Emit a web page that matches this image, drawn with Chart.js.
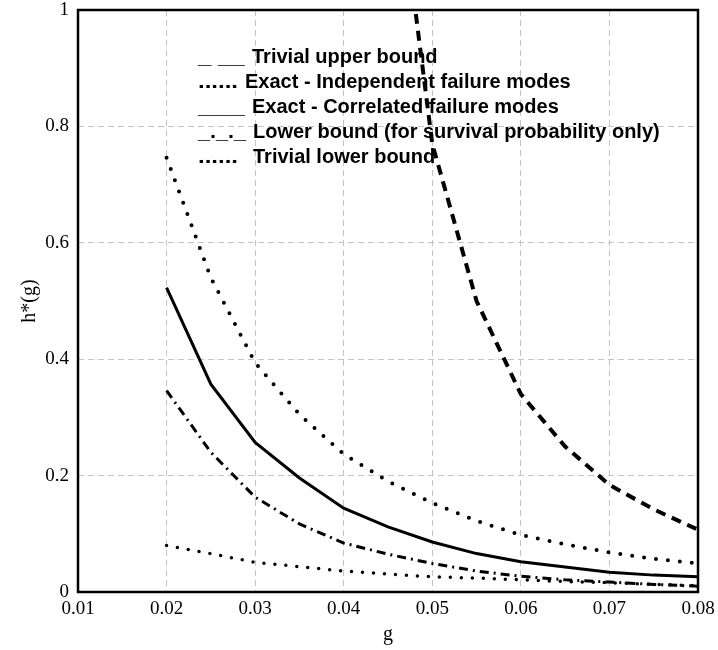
<!DOCTYPE html>
<html>
<head>
<meta charset="utf-8">
<script src="https://cdn.jsdelivr.net/npm/chart.js@4.4.1/dist/chart.umd.min.js"></script>
<style>
  html, body { margin: 0; padding: 0; background: #fff; }
  #wrap { width: 718px; height: 650px; }
</style>
</head>
<body>
<div id="wrap"><canvas id="chart"></canvas></div>
<script>
// g values the curves were read at
const gValues = [0.02, 0.025, 0.03, 0.035, 0.04, 0.045, 0.05, 0.055, 0.06, 0.065, 0.07, 0.075, 0.08];
// trivial upper bound only comes into range after g ~ 0.048
const upperG = [0.045, 0.05, 0.055, 0.06, 0.065, 0.07, 0.075, 0.08];

const trivialUpper = [1.37, 0.77, 0.50, 0.34, 0.25, 0.184, 0.142, 0.107];
const exactIndependent = [0.746, 0.54, 0.394, 0.305, 0.237, 0.19, 0.153, 0.122, 0.098, 0.082, 0.068, 0.057, 0.049];
const exactCorrelated = [0.523, 0.357, 0.257, 0.196, 0.144, 0.112, 0.086, 0.066, 0.052, 0.043, 0.034, 0.029, 0.026];
const lowerBound = [0.346, 0.24, 0.163, 0.117, 0.084, 0.065, 0.049, 0.036, 0.027, 0.021, 0.017, 0.013, 0.010];
const trivialLower = [0.08, 0.066, 0.051, 0.0435, 0.036, 0.031, 0.026, 0.024, 0.021, 0.018, 0.016, 0.013, 0.011];

const xTicks = [0.01, 0.02, 0.03, 0.04, 0.05, 0.06, 0.07, 0.08];
const xTickLabels = ['0.01', '0.02', '0.03', '0.04', '0.05', '0.06', '0.07', '0.08'];
const yTicks = [0, 0.2, 0.4, 0.6, 0.8, 1];
const yTickLabels = ['0', '0.2', '0.4', '0.6', '0.8', '1'];

// legend is plain text in the original, line samples typed as characters
const legendMarks = ['_ __', '......', '_____', '_._._', '......'];
const legendLabels = [
    'Trivial upper bound',
    'Exact - Independent failure modes',
    'Exact - Correlated failure modes',
    'Lower bound (for survival probability only)',
    'Trivial lower bound'
];

function pts(xs, ys) {
    return xs.map((x, i) => ({ x: x, y: ys[i] }));
}

// black box round the plot
const framePlugin = {
    id: 'frame',
    afterDatasetsDraw(chart) {
        const { ctx, chartArea: a } = chart;
        ctx.save();
        ctx.strokeStyle = '#000';
        ctx.lineWidth = 2.5;
        ctx.strokeRect(a.left, a.top, a.right - a.left, a.bottom - a.top);
        ctx.restore();
    }
};

const textLegendPlugin = {
    id: 'textLegend',
    beforeDatasetsDraw(chart) {
        const ctx = chart.ctx;
        const markX = 198;
        const textX = [252, 245, 252, 253, 253];
        const rowY = [57, 82, 107, 132, 157];
        ctx.save();
        ctx.fillStyle = '#000';
        ctx.font = 'bold 20px "Liberation Sans", Arial, sans-serif';
        ctx.textBaseline = 'middle';
        ctx.textAlign = 'left';
        legendLabels.forEach((label, i) => {
            const mark = legendMarks[i];
            const w = ctx.measureText(mark).width;
            const target = textX[i] - markX - 7;
            ctx.save();
            ctx.translate(markX, rowY[i]);
            ctx.scale(Math.min(1.2, target / w), 1);
            ctx.fillText(mark, 0, 0);
            ctx.restore();
            ctx.fillText(label, textX[i], rowY[i]);
        });
        ctx.restore();
    }
};

const serif = '"Liberation Serif", "Times New Roman", serif';

new Chart(document.getElementById('chart'), {
    type: 'line',
    data: {
        datasets: [
            {
                label: legendLabels[0],
                data: pts(upperG, trivialUpper),
                borderColor: '#000',
                borderWidth: 4,
                borderDash: [10, 7]
            },
            {
                label: legendLabels[1],
                data: pts(gValues, exactIndependent),
                borderColor: '#000',
                borderWidth: 4,
                borderDash: [0, 12],
                borderCapStyle: 'round'
            },
            {
                label: legendLabels[2],
                data: pts(gValues, exactCorrelated),
                borderColor: '#000',
                borderWidth: 3
            },
            {
                label: legendLabels[3],
                data: pts(gValues, lowerBound),
                borderColor: '#000',
                borderWidth: 3,
                borderDash: [9, 5, 2, 5]
            },
            {
                label: legendLabels[4],
                data: pts(gValues, trivialLower),
                borderColor: '#000',
                borderWidth: 3.5,
                borderDash: [0, 11],
                borderCapStyle: 'round'
            }
        ]
    },
    options: {
        responsive: true,
        maintainAspectRatio: false,
        animation: false,
        layout: { padding: { top: 10, right: 20, left: 0, bottom: 0 } },
        elements: {
            point: { radius: 0 },
            line: { tension: 0, fill: false }
        },
        plugins: {
            legend: { display: false },
            tooltip: { enabled: false }
        },
        scales: {
            x: {
                type: 'linear',
                min: 0.01,
                max: 0.08,
                afterBuildTicks: (scale) => { scale.ticks = xTicks.map(v => ({ value: v })); },
                afterFit: (scale) => {
                    scale.height = 58;
                    scale.paddingLeft = 0;
                    scale.paddingRight = 0;
                },
                ticks: {
                    color: '#000',
                    font: { family: serif, size: 19 },
                    padding: 6,
                    maxRotation: 0,
                    callback: (v, i) => xTickLabels[i]
                },
                grid: { color: '#c4c4c4', lineWidth: 1, drawTicks: false },
                border: { display: false, dash: [6, 4] },
                title: {
                    display: true,
                    text: 'g',
                    color: '#000',
                    font: { family: serif, size: 20 },
                    padding: { top: 0, bottom: 3 }
                }
            },
            y: {
                type: 'linear',
                min: 0,
                max: 1,
                afterBuildTicks: (scale) => { scale.ticks = yTicks.map(v => ({ value: v })); },
                afterFit: (scale) => {
                    scale.width = 78;
                    scale.paddingTop = 0;
                    scale.paddingBottom = 0;
                },
                ticks: {
                    color: '#000',
                    font: { family: serif, size: 19 },
                    padding: 9,
                    callback: (v, i) => yTickLabels[i]
                },
                grid: { color: '#c4c4c4', lineWidth: 1, drawTicks: false },
                border: { display: false, dash: [6, 4] },
                title: {
                    display: true,
                    text: 'h*(g)',
                    color: '#000',
                    font: { family: serif, size: 20 },
                    padding: { top: 18, bottom: 0 }
                }
            }
        }
    },
    plugins: [textLegendPlugin, framePlugin]
});
</script>
</body>
</html>
